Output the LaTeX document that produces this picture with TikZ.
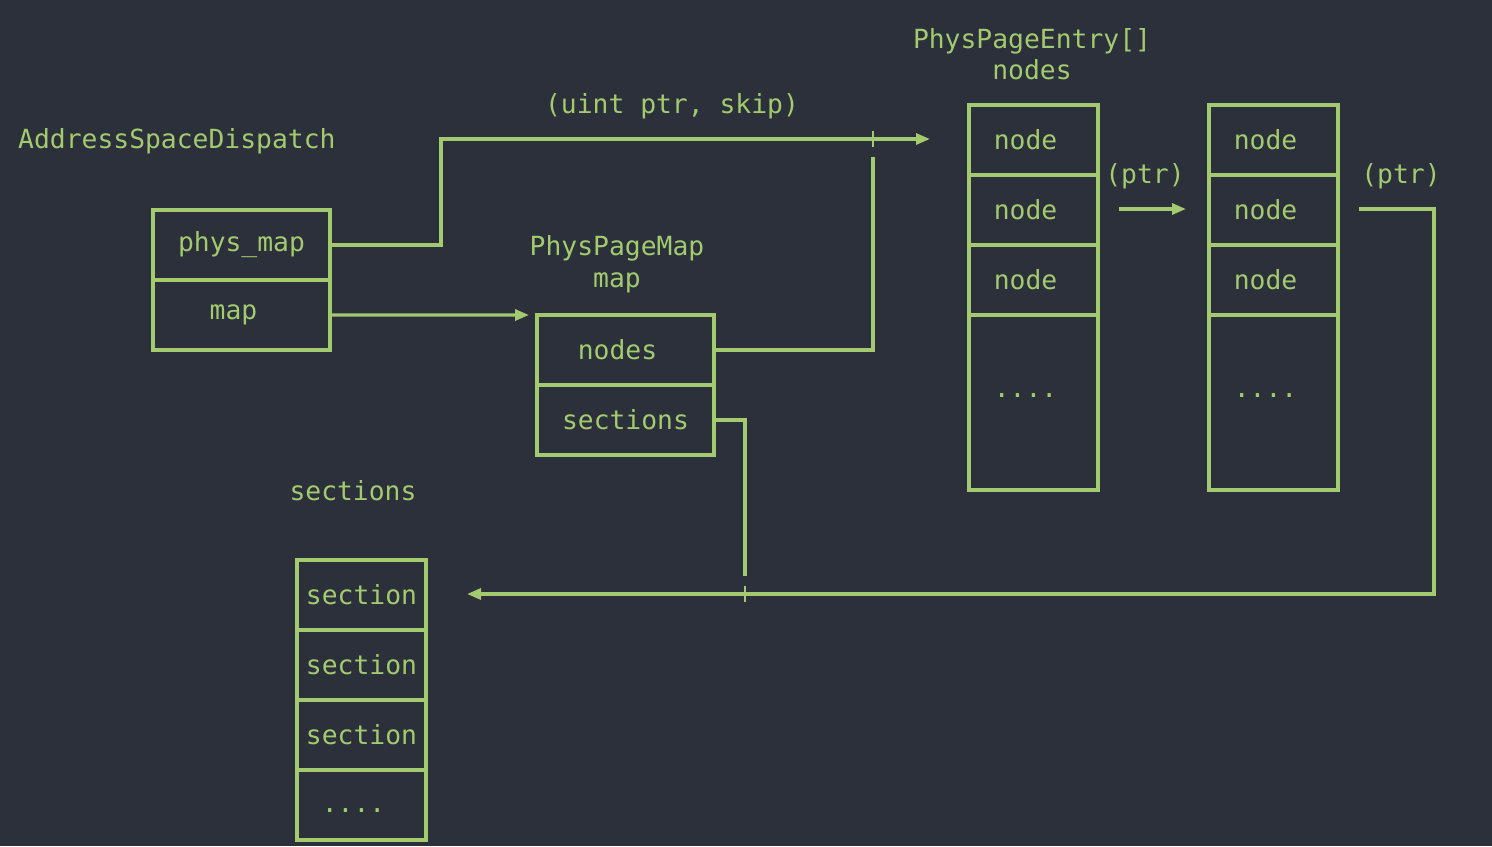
\documentclass[tikz,border=0pt]{standalone}
\usepackage{fontspec}
\setmonofont{DejaVu Sans Mono}
\usetikzlibrary{arrows.meta}
\usetikzlibrary{positioning}
\definecolor{bgdark}{HTML}{2B303B}
\definecolor{codegreen}{HTML}{A3CA6E}
\newcommand{\lft}[1]{#1\hspace*{0.32cm}}

\begin{document}
\begin{tikzpicture}[x=0.02cm,y=-0.02cm,
			every node/.style={text=codegreen,font=\ttfamily\fontsize{15}{18}\selectfont},
			cell/.style={draw=codegreen,line width=1.8pt,inner sep=0pt,outer sep=0pt,
				minimum height=1.4cm},
			wide/.style={cell,minimum width=3.54cm},
			narrow/.style={cell,minimum width=2.58cm},
			link/.style={draw=codegreen,line width=1.8pt},
			tip/.style={-{Triangle[length=0.28cm,width=0.22cm]}}]
			\fill[bgdark] (0,0) rectangle (1492,846);
			\useasboundingbox (0,0) rectangle (1492,846);
			
			% AddressSpaceDispatch
			\node[anchor=west] (asdlbl) at (12,141) {AddressSpaceDispatch};
			\node[wide] (physmap) at (241.5,245) {phys\_map};
			\node[wide,below=0pt of physmap] (map) {\lft{map}};
			
			% PhysPageMap
			\node[align=center] (pmlbl) at (617,264) {PhysPageMap\\map};
			\node[wide] (nodes) at (625.5,350) {\lft{nodes}};
			\node[wide,below=0pt of nodes] (sections) {sections};
			
			% PhysPageEntry[]
			\node[align=center] (pelbl) at (1032,54) {PhysPageEntry[]\\nodes};
			\node[narrow] (n11) at (1033.5,140) {\lft{node}};
			\node[narrow,below=0pt of n11] (n12) {\lft{node}};
			\node[narrow,below=0pt of n12] (n13) {\lft{node}};
			\node[narrow,below=0pt of n13,minimum height=3.5cm] (n14) {};
			\node[anchor=base] (dots1) at ([yshift=0.1cm]n14.center) {\lft{....}};
			\node[narrow] (n21) at (1273.5,140) {\lft{node}};
			\node[narrow,below=0pt of n21] (n22) {\lft{node}};
			\node[narrow,below=0pt of n22] (n23) {\lft{node}};
			\node[narrow,below=0pt of n23,minimum height=3.5cm] (n24) {};
			\node[anchor=base] (dots2) at ([yshift=0.1cm]n24.center) {\lft{....}};
			\node (ptra) at (1145,176) {(ptr)};
			\node (ptrb) at (1401,176) {(ptr)};
			
			% sections
			\node (seclbl) at (353,491) {sections};
			\node[narrow] (s1) at (361.5,595) {section};
			\node[narrow,below=0pt of s1] (s2) {section};
			\node[narrow,below=0pt of s2] (s3) {section};
			\node[narrow,below=0pt of s3] (s4) {};
			\node[anchor=base] (dots3) at ([yshift=-0.16cm]s4.center) {\lft{....}};
			
			\node (argslbl) at (672,106) {(uint ptr, skip)};
			
			% connectors
			\coordinate (toentry) at (930,139);
			\coordinate (upend) at (873,157);
			\coordinate (downend) at (745,576);
			\coordinate (tosec) at (467,594);
			\coordinate (ptrout) at (1359,209);
			\coordinate (ptrin) at (1119,209);
			\coordinate (ptrto) at (1186,209);
			
			\draw[link,tip] (physmap.east) -| (441,139) -- (toentry);
			\draw[link,tip] (map.east) -- ([xshift=-0.16cm]nodes.north west);
			\draw[link] (nodes.east) -| (upend);
			\draw[link] (sections.east) -| (downend);
			\draw[link,tip] (ptrout) -| (1434,594) -- (tosec);
			\draw[link,tip] (ptrin) -- (ptrto);
			
			% crossings
			\draw[link,line width=1.2pt] (873,131) -- (873,147);
			\draw[link,line width=1.2pt] (745,586) -- (745,602);
		\end{tikzpicture}
\end{document}
